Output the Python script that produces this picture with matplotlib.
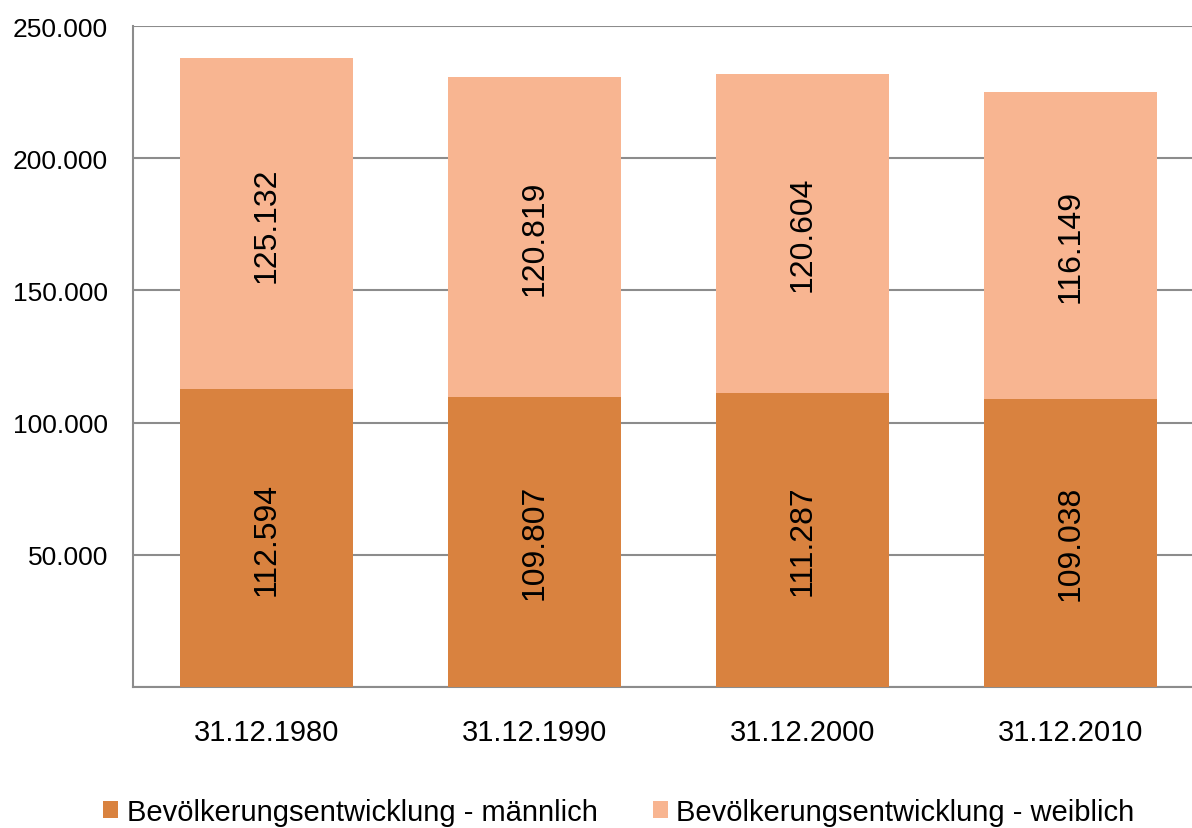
import matplotlib.pyplot as plt
from matplotlib.ticker import FuncFormatter, MultipleLocator

plt.rcParams["font.family"] = ["Liberation Sans", "DejaVu Sans"]

# Data
dates = ["31.12.1980", "31.12.1990", "31.12.2000", "31.12.2010"]
maennlich = [112594, 109807, 111287, 109038]
weiblich = [125132, 120819, 120604, 116149]

col_m = "#D9823F"
col_w = "#F8B591"
grid_col = "#8C8C8C"


def de_fmt(v):
    return f"{int(round(v)):,}".replace(",", ".")


fig = plt.figure(figsize=(11.92, 8.29), dpi=100)
ax = fig.add_axes([133 / 1192, 1 - 688 / 829, (1204 - 133) / 1192, (688 - 27) / 829])

x = range(len(dates))
w = 0.6455
bars_m = ax.bar(x, maennlich, width=w, color=col_m, label="Bevölkerungsentwicklung - männlich", zorder=3)
bars_w = ax.bar(x, weiblich, width=w, bottom=maennlich, color=col_w,
                label="Bevölkerungsentwicklung - weiblich", zorder=3)

# value labels inside each segment
for bars, vals, bottoms in ((bars_m, maennlich, [0] * 4), (bars_w, weiblich, maennlich)):
    for b, v, b0 in zip(bars, vals, bottoms):
        ax.text(b.get_x() + b.get_width() / 2, b0 + v / 2, de_fmt(v),
                rotation=90, ha="center", va="center", fontsize=23, color="black", zorder=4)

ax.set_ylim(0, 250000)
ax.set_xlim(-0.498, 3.498)
ax.yaxis.set_major_locator(MultipleLocator(50000))
ax.yaxis.set_major_formatter(FuncFormatter(lambda v, p: "" if v == 0 else de_fmt(v)))
ax.set_xticks(list(x))
ax.set_xticklabels(dates)
ax.tick_params(axis="both", length=0, colors="black")
ax.tick_params(axis="x", pad=22, labelsize=21)
ax.tick_params(axis="y", pad=18, labelsize=19)

ax.grid(axis="y", color=grid_col, linewidth=1.5, zorder=0)
for s in ("top", "right"):
    ax.spines[s].set_visible(False)
for s in ("left", "bottom"):
    ax.spines[s].set_color(grid_col)
    ax.spines[s].set_linewidth(1.5)

fig.legend(loc="lower center", bbox_to_anchor=(619 / 1192, -0.029), ncol=2, frameon=False,
           fontsize=21, handlelength=0.5, handleheight=0.5, handletextpad=0.3, columnspacing=1.9)

fig.savefig("out.png", dpi=100)
